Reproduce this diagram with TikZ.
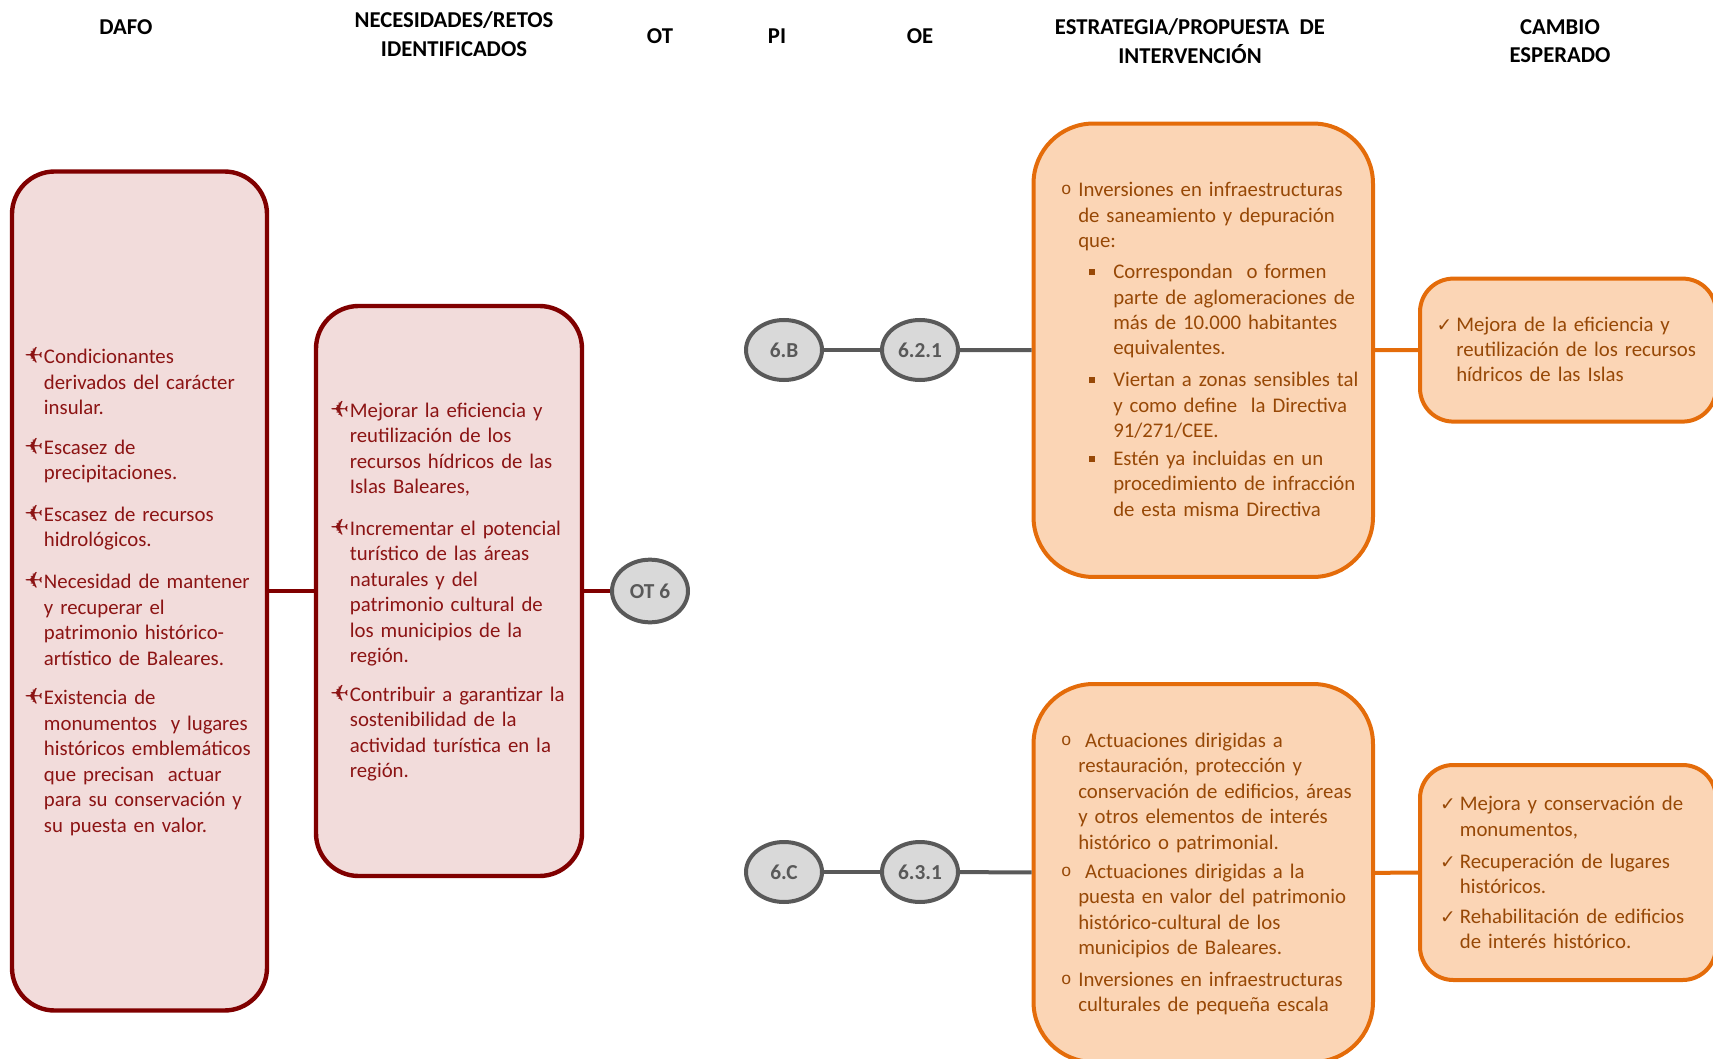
\documentclass[tikz,border=0pt]{standalone}
\usepackage{fontspec}
\setmainfont{Carlito}
\newfontfamily\dejavu{DejaVu Sans}
\newfontfamily\monofnt{Liberation Mono}
\usetikzlibrary{shapes.geometric}

\definecolor{dred}{RGB}{128,0,0}
\definecolor{dredtext}{RGB}{140,20,20}
\definecolor{pinkfill}{RGB}{242,220,219}
\definecolor{orgline}{RGB}{228,108,10}
\definecolor{orgfill}{RGB}{251,213,181}
\definecolor{orgtext}{RGB}{151,72,6}
\definecolor{grayline}{RGB}{89,89,89}
\definecolor{grayfill}{RGB}{217,217,217}

\newcommand{\bodyfont}{\fontsize{15.6}{19.1}\selectfont}
\newcommand{\hdrfont}{\fontsize{17}{21.5}\selectfont\bfseries}
\newcommand{\planebul}{\llap{\raisebox{0ex}{\dejavu\fontsize{17}{17}\selectfont\scalebox{-1}[1]{✈}}\hspace{0.5pt}}}
\newcommand{\obul}{\llap{\raisebox{0.2ex}{\monofnt\fontsize{13}{13}\selectfont o}\hspace{5pt}}}
\newcommand{\sqbul}{\llap{\raisebox{0.35ex}{\rule{4.5pt}{4.5pt}}\hspace{14pt}}}
\newcommand{\chkbul}{\llap{{\dejavu\fontsize{14}{14}\selectfont ✓}\hspace{3pt}}}

\tikzset{
  x=0.75pt, y=-0.75pt,
  redbox/.style={rectangle, draw=dred, fill=pinkfill, line width=3.3pt, rounded corners=32pt, inner sep=0pt},
  orgbox/.style={rectangle, draw=orgline, fill=orgfill, line width=3pt, rounded corners=#1, inner sep=0pt},
  ell/.style={ellipse, draw=grayline, fill=grayfill, line width=3pt, minimum width=57pt, minimum height=45pt, inner sep=0pt, text=grayline, font=\fontsize{16}{16}\selectfont\bfseries},
  redtxt/.style={anchor=base west, inner sep=0pt, text width=320pt, align=left, font=\bodyfont, text=dredtext},
  orgtxt/.style={anchor=base west, inner sep=0pt, text width=320pt, align=left, font=\bodyfont, text=orgtext},
  hdr/.style={inner sep=0pt, align=center, font=\hdrfont, text=black},
  redconn/.style={draw=dred, line width=3.3pt},
  grayconn/.style={draw=grayline, line width=3pt},
  orgconn/.style={draw=orgline, line width=3pt},
}

\begin{document}
\begin{tikzpicture}
\useasboundingbox (0,0) rectangle (1713,1059);
\clip (0,0) rectangle (1713,1059);

% headers
\node[hdr] (hdafo) at (126,27.5) {DAFO};
\node[hdr] (hnec) at (454,34) {NECESIDADES/RETOS\\IDENTIFICADOS};
\node[hdr] (hot) at (660,36.5) {OT};
\node[hdr] (hpi) at (777,36.5) {PI};
\node[hdr] (hoe) at (920,36.5) {OE};
\node[hdr] (hest) at (1190,41) {ESTRATEGIA/PROPUESTA\ \ DE\\INTERVENCIÓN};
\node[hdr] (hcam) at (1560,41) {CAMBIO\\ESPERADO};

% boxes
\node[redbox, minimum width=191.25pt, minimum height=629.25pt] (dafo) at (139.5,591) {};
\node[redbox, minimum width=199.5pt, minimum height=427.5pt] (nec) at (449,591) {};
\node[ell, minimum width=57pt, minimum height=47pt] (ot6) at (650,591) {OT 6};

\node[ell] (pib) at (784,350) {6.B};
\node[ell] (oe1) at (920,350) {6.2.1};
\node[ell] (pic) at (784,872) {6.C};
\node[ell] (oe2) at (920,872) {6.3.1};

\node[orgbox=45pt, minimum width=254.6pt, minimum height=340.1pt] (est1) at (1203.25,350.25) {};
\node[orgbox=25pt, minimum width=222pt, minimum height=107.25pt] (cam1) at (1568,350.1) {};
\node[orgbox=45pt, minimum width=254.6pt, minimum height=283.5pt] (est2) at (1203.25,873) {};
\node[orgbox=25pt, minimum width=222pt, minimum height=161.25pt] (cam2) at (1568,872.5) {};

% connectors
\draw[redconn] (dafo) -- (nec);
\draw[redconn] (nec) -- (ot6);
\draw[grayconn] (pib) -- (oe1);
\draw[grayconn] (oe1) -- (est1);
\draw[grayconn] (pic) -- (oe2);
\draw[grayconn] (oe2) -- (est2);
\draw[orgconn] (est1) -- (cam1);
\draw[orgconn] (est2) -- (cam2);

% DAFO text
\node[redtxt] (d1) at (43.7,363.8) {\planebul Condicionantes\\derivados del carácter\\insular.};
\node[redtxt] (d2) at (43.7,454.5) {\planebul Escasez de\\precipitaciones.};
\node[redtxt] (d3) at (43.7,521.1) {\planebul Escasez de recursos\\hidrológicos.};
\node[redtxt] (d4) at (43.7,588.9) {\planebul Necesidad de mantener\\y recuperar el\\patrimonio histórico-\\artístico de Baleares.};
\node[redtxt] (d5) at (43.7,704.7) {\planebul Existencia de\\monumentos\ \ y lugares\\históricos emblemáticos\\que precisan\ \ actuar\\para su conservación y\\su puesta en valor.};

% Necesidades text
\node[redtxt] (n1) at (349.6,417.3) {\planebul Mejorar la eficiencia y\\reutilización de los\\recursos hídricos de las\\Islas Baleares,};
\node[redtxt] (n2) at (349.6,535.3) {\planebul Incrementar el potencial\\turístico de las áreas\\naturales y del\\patrimonio cultural de\\los municipios de la\\región.};
\node[redtxt] (n3) at (349.6,701.4) {\planebul Contribuir a garantizar la\\sostenibilidad de la\\actividad turística en la\\región.};

% Strategy 1
\node[orgtxt] (s1) at (1078,196.7) {\obul Inversiones en infraestructuras\\de saneamiento y depuración\\que:};
\node[orgtxt] (s1a) at (1113,278.6) {\sqbul Correspondan\ \ o formen\\parte de aglomeraciones de\\más de 10.000 habitantes\\equivalentes.};
\node[orgtxt] (s1b) at (1113,386.7) {\sqbul Viertan a zonas sensibles tal\\y como define\ \ la Directiva\\91/271/CEE.};
\node[orgtxt] (s1c) at (1113,465.4) {\sqbul Estén ya incluidas en un\\procedimiento de infracción\\de esta misma Directiva};

% Cambio 1
\node[orgtxt] (c1) at (1456,331) {\chkbul Mejora de la eficiencia y\\reutilización de los recursos\\hídricos de las Islas};

% Strategy 2
\node[orgtxt] (s2a) at (1078,747.3) {\obul\ Actuaciones dirigidas a\\restauración, protección y\\conservación de edificios, áreas\\y otros elementos de interés\\histórico o patrimonial.};
\node[orgtxt] (s2b) at (1078,878.4) {\obul\ Actuaciones dirigidas a la\\puesta en valor del patrimonio\\histórico-cultural de los\\municipios de Baleares.};
\node[orgtxt] (s2c) at (1078,986.5) {\obul Inversiones en infraestructuras\\culturales de pequeña escala};

% Cambio 2
\node[orgtxt] (c2a) at (1459.6,810.6) {\chkbul Mejora y conservación de\\monumentos,};
\node[orgtxt] (c2b) at (1459.6,868.5) {\chkbul Recuperación de lugares\\históricos.};
\node[orgtxt] (c2c) at (1459.6,923.2) {\chkbul Rehabilitación de edificios\\de interés histórico.};
\end{tikzpicture}
\end{document}
